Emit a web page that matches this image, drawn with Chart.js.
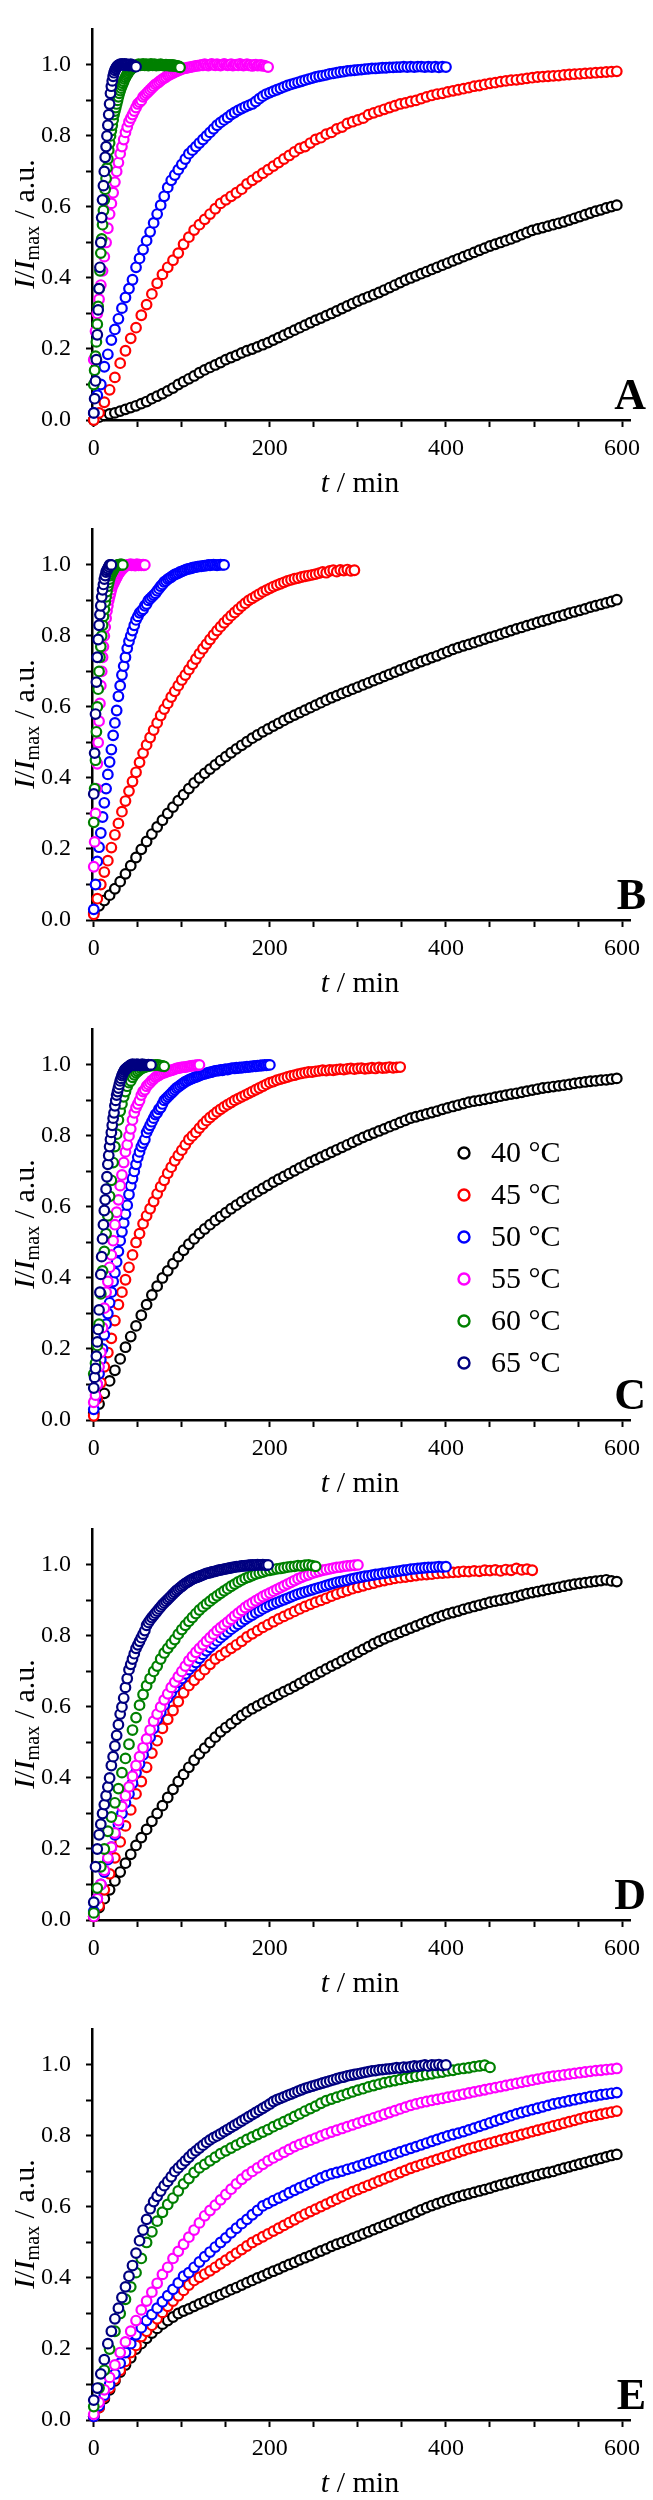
<!DOCTYPE html>
<html>
<head>
<meta charset="utf-8">
<script src="https://cdn.jsdelivr.net/npm/chart.js@4/dist/chart.umd.min.js"></script>
<style>
  body { margin: 0; background: #fff; }
  canvas { display: block; }
</style>
</head>
<body>
<canvas id="panelA" width="653" height="500"></canvas>
<canvas id="panelB" width="653" height="500"></canvas>
<canvas id="panelC" width="653" height="500"></canvas>
<canvas id="panelD" width="653" height="500"></canvas>
<canvas id="panelE" width="653" height="500"></canvas>
<script>
// sampling times (min)
const t1 = [0,1,2,3,4,5,6,7,8,9,10,11,12,13,14,15,16,17,18,19,20,21,22,23,24,25,26,27,28,29,30,31,32,33,34,35,36,37,38,39,40,41,42,43,44,45,46,47,48,49,50,51,52,53,54,55,56,57,58,59,60,61,62,63,64,65,66,67,68,69,70,71,72,73,74,75,76,77,78,79,80,81,82,83,84,85,86,87,88,89,90,91,92,93,94,95,96,97,98,99,100];
const t2 = [0,2,4,6,8,10,12,14,16,18,20,22,24,26,28,30,32,34,36,38,40,42,44,46,48,50,52,54,56,58,60,62,64,66,68,70,72,74,76,78,80,82,84,86,88,90,92,94,96,98,100,102,104,106,108,110,112,114,116,118,120,122,124,126,128,130,132,134,136,138,140,142,144,146,148,150,152,154,156,158,160,162,164,166,168,170,172,174,176,178,180,182,184,186,188,190,192,194,196,198,200];
const t4 = [0,4,8,12,16,20,24,28,32,36,40,44,48,52,56,60,64,68,72,76,80,84,88,92,96,100,104,108,112,116,120,124,128,132,136,140,144,148,152,156,160,164,168,172,176,180,184,188,192,196,200,204,208,212,216,220,224,228,232,236,240,244,248,252,256,260,264,268,272,276,280,284,288,292,296,300,304,308,312,316,320,324,328,332,336,340,344,348,352,356,360,364,368,372,376,380,384,388,392,396,400];
const t6 = [0,6,12,18,24,30,36,42,48,54,60,66,72,78,84,90,96,102,108,114,120,126,132,138,144,150,156,162,168,174,180,186,192,198,204,210,216,222,228,234,240,246,252,258,264,270,276,282,288,294,300,306,312,318,324,330,336,342,348,354,360,366,372,378,384,390,396,402,408,414,420,426,432,438,444,450,456,462,468,474,480,486,492,498,504,510,516,522,528,534,540,546,552,558,564,570,576,582,588,594];

const tempLabels = ["40 °C", "45 °C", "50 °C", "55 °C", "60 °C", "65 °C"];
const panelLetters = ["A", "B", "C", "D", "E"];

// ---- panel A : I/Imax ----
const a40 = [.000,.008,.013,.017,.020,.025,.030,.035,.040,.046,
  .052,.060,.067,.074,.082,.090,.100,.108,.116,.124,
  .133,.141,.148,.155,.162,.170,.176,.182,.189,.195,
  .200,.206,.212,.218,.225,.232,.239,.246,.253,.260,
  .267,.274,.281,.287,.294,.300,.307,.314,.321,.328,
  .335,.341,.347,.353,.359,.366,.373,.380,.387,.394,
  .400,.406,.412,.418,.424,.430,.436,.442,.448,.454,
  .460,.466,.472,.478,.484,.490,.495,.500,.505,.510,
  .516,.522,.528,.534,.538,.542,.546,.550,.554,.558,
  .563,.568,.573,.578,.583,.588,.592,.597,.601,.605];
const a45 = [0,.02,.05,.085,.12,.16,.195,.23,.26,.295,
  .325,.355,.385,.41,.43,.45,.47,.495,.515,.535,
  .55,.565,.58,.595,.61,.62,.63,.64,.65,.665,
  .675,.685,.695,.705,.715,.725,.735,.745,.755,.765,
  .77,.78,.79,.795,.805,.81,.82,.825,.835,.84,
  .845,.85,.86,.865,.87,.875,.88,.885,.89,.893,
  .897,.90,.905,.91,.914,.918,.92,.924,.927,.93,
  .933,.936,.94,.942,.945,.948,.95,.953,.955,.957,
  .958,.96,.962,.964,.966,.967,.968,.969,.97,.972,
  .973,.974,.975,.976,.977,.978,.979,.98,.981,.982];
const a50 = [.02,.07,.10,.15,.185,.225,.255,.285,.315,.345,
  .37,.395,.43,.455,.48,.505,.53,.555,.58,.605,
  .63,.655,.675,.69,.705,.72,.735,.75,.76,.77,
  .78,.79,.80,.81,.82,.83,.838,.845,.852,.86,
  .866,.872,.877,.882,.886,.89,.897,.905,.912,.918,
  .922,.926,.93,.934,.938,.942,.945,.948,.951,.954,
  .957,.96,.963,.966,.968,.97,.972,.975,.976,.978,
  .98,.981,.983,.984,.985,.986,.987,.988,.989,.99,
  .99,.991,.992,.992,.993,.993,.994,.994,.995,.994,
  .995,.994,.995,.995,.994,.995,.994,.995,.993,.995,
  .994];
const a55 = [.17,.25,.30,.34,.38,.42,.46,.50,.54,.58,
  .61,.64,.67,.70,.725,.75,.77,.79,.81,.825,
  .84,.85,.86,.87,.88,.89,.895,.90,.91,.915,
  .92,.925,.93,.935,.94,.945,.948,.952,.956,.96,
  .963,.966,.97,.972,.975,.977,.98,.982,.984,.986,
  .988,.99,.991,.992,.993,.994,.995,.996,.997,.998,
  .998,1.0,.999,1.002,1.0,.998,1.001,1.003,1.0,.999,
  1.002,1.0,.998,1.0,1.003,1.001,.999,1.0,1.002,.998,
  1.0,1.001,.999,1.003,1.0,.998,1.0,1.002,.999,1.0,
  .997,1.0,1.001,.998,.999,1.0,.997,.998,.996,.994];
const a60 = [.10,.14,.18,.22,.27,.32,.37,.42,.47,.51,
  .55,.59,.62,.65,.68,.71,.735,.76,.78,.80,
  .815,.83,.845,.86,.87,.88,.89,.90,.91,.92,
  .928,.935,.942,.948,.954,.96,.965,.97,.974,.978,
  .982,.985,.988,.99,.992,.994,.996,.997,.998,.999,
  1.0,1.002,1.0,.999,1.001,1.0,1.003,1.0,.999,1.001,
  1.002,1.0,.998,1.0,1.001,1.003,1.0,.999,1.0,1.002,
  1.0,.998,1.0,1.001,.999,1.0,1.002,1.0,.999,1.0,
  .998,1.0,1.001,.999,1.0,.998,1.0,.999,.997,1.0,
  .998,.999,.997,.998,.996,.997,.995,.996,.993];
const a65 = [.02,.06,.11,.17,.24,.31,.37,.43,.50,.57,
  .62,.66,.70,.74,.77,.80,.83,.86,.89,.92,
  .94,.955,.968,.978,.985,.99,.994,.997,.999,1.0,
  1.002,1.0,1.003,1.001,1.0,1.003,.999,1.002,1.0,1.001,
  .998,1.0,1.002,.999,1.0,.998,.997,.996,.995];

// ---- panel B ----
const b40 = [.02,.04,.055,.07,.088,.108,.13,.153,.176,.199,
  .221,.242,.262,.281,.30,.318,.336,.353,.37,.386,
  .40,.413,.425,.437,.449,.46,.471,.482,.492,.502,
  .512,.521,.53,.538,.546,.554,.562,.57,.577,.584,
  .591,.598,.605,.612,.619,.626,.632,.638,.644,.65,
  .656,.662,.668,.674,.68,.686,.692,.698,.704,.71,
  .716,.722,.728,.733,.739,.744,.75,.756,.762,.767,
  .772,.776,.781,.786,.791,.796,.80,.805,.81,.815,
  .82,.824,.829,.833,.838,.842,.846,.851,.855,.859,
  .864,.868,.872,.876,.881,.885,.889,.893,.897,.902];
const b45 = [.016,.06,.10,.135,.167,.204,.24,.272,.305,.335,
  .363,.39,.416,.444,.47,.493,.514,.535,.555,.576,
  .594,.61,.628,.644,.66,.676,.69,.705,.72,.735,
  .75,.764,.777,.79,.803,.815,.826,.837,.847,.857,
  .866,.875,.884,.892,.90,.906,.912,.918,.924,.929,
  .934,.939,.943,.947,.951,.955,.958,.961,.963,.966,
  .968,.97,.972,.974,.977,.98,.978,.983,.985,.981,
  .986,.984,.987,.983,.985];
const b50 = [.03,.10,.165,.205,.245,.29,.33,.37,.41,.445,
  .48,.52,.555,.59,.63,.66,.69,.715,.74,.765,
  .785,.80,.815,.83,.845,.855,.865,.87,.875,.885,
  .89,.90,.905,.91,.915,.92,.927,.933,.94,.945,
  .952,.955,.96,.963,.966,.97,.973,.975,.977,.98,
  .982,.984,.986,.988,.989,.99,.992,.993,.994,.995,
  .996,.996,.997,.998,.998,1.0,.999,1.0,1.001,1.0,
  .999,1.0,1.001,1.0,1.0];
const b55 = [.15,.22,.30,.37,.44,.50,.56,.61,.66,.70,
  .74,.77,.80,.825,.85,.87,.885,.90,.91,.92,
  .93,.94,.945,.95,.955,.96,.965,.97,.975,.978,
  .982,.985,.988,.99,.993,.995,.997,.998,1.0,.999,
  1.001,1.0,1.002,.999,1.0,1.001,1.0,.998,1.0,1.002,
  1.0,.999,1.001,1.0,.999,1.0,1.001,.999,1.0];
const b60 = [.275,.37,.45,.53,.60,.65,.70,.74,.77,.80,
  .83,.855,.875,.895,.91,.925,.94,.95,.96,.97,
  .975,.98,.985,.99,.993,.996,.998,1.0,1.0,1.001,
  1.0,1.002,1.0,1.0];
const b65 = [.355,.47,.58,.67,.74,.79,.83,.86,.885,.91,
  .93,.945,.96,.97,.98,.985,.99,.995,1.0,1.0,1.0];

// ---- panel C ----
const c40 = [.02,.045,.075,.11,.14,.172,.205,.235,.265,.295,
  .325,.352,.377,.40,.42,.44,.46,.478,.495,.51,
  .525,.538,.55,.562,.573,.584,.595,.605,.615,.625,
  .634,.643,.652,.661,.67,.678,.686,.694,.702,.71,
  .718,.726,.733,.74,.747,.754,.761,.768,.775,.782,
  .789,.796,.802,.808,.814,.82,.826,.832,.838,.844,
  .85,.854,.858,.862,.866,.87,.875,.879,.883,.887,
  .891,.895,.898,.90,.903,.906,.909,.912,.915,.918,
  .92,.923,.926,.929,.932,.935,.937,.939,.941,.943,
  .945,.948,.95,.952,.954,.955,.957,.958,.96,.962];
const c45 = [.012,.06,.105,.15,.19,.23,.28,.325,.36,.395,
  .43,.465,.50,.525,.553,.575,.595,.615,.637,.657,
  .675,.695,.712,.73,.745,.76,.775,.79,.80,.81,
  .822,.833,.843,.852,.86,.868,.875,.882,.888,.894,
  .90,.905,.91,.915,.92,.925,.93,.935,.94,.945,
  .95,.953,.957,.96,.963,.966,.969,.971,.974,.976,
  .978,.98,.98,.982,.983,.985,.984,.986,.985,.987,
  .988,.987,.989,.99,.988,.99,.991,.989,.99,.992,
  .99,.993,.991,.992,.994,.992,.993,.994];
const c50 = [.03,.06,.10,.13,.17,.20,.24,.27,.30,.33,
  .36,.39,.415,.445,.475,.505,.53,.555,.58,.605,
  .635,.66,.68,.70,.72,.74,.755,.77,.78,.79,
  .81,.82,.83,.84,.85,.86,.865,.875,.88,.89,
  .90,.905,.91,.915,.92,.925,.93,.935,.938,.942,
  .946,.949,.953,.955,.958,.96,.962,.964,.966,.968,
  .97,.972,.974,.975,.976,.978,.979,.98,.982,.983,
  .984,.984,.986,.985,.987,.988,.987,.989,.99,.991,
  .99,.992,.991,.993,.992,.994,.993,.995,.994,.996,
  .995,.997,.996,.998,.997,.999,.998,1.0,.999,1.0,
  1.0];
const c55 = [.05,.07,.10,.15,.19,.26,.315,.36,.39,.43,
  .465,.505,.55,.585,.62,.66,.69,.725,.755,.775,
  .80,.82,.845,.865,.88,.89,.90,.915,.925,.93,
  .94,.945,.95,.956,.96,.965,.968,.971,.974,.976,
  .978,.98,.982,.983,.985,.986,.988,.99,.991,.992,
  .993,.994,.994,.995,.996,.997,.998,.998,.999,.999,
  1.0];
const c60 = [.13,.16,.21,.27,.355,.42,.475,.525,.575,.63,
  .675,.725,.77,.805,.845,.87,.89,.91,.925,.94,
  .95,.955,.965,.972,.978,.982,.986,.99,.992,.994,
  .995,.997,.998,.998,.999,1.0,1.0,.999,.998,.997,
  .996];
const c65 = [.09,.12,.145,.18,.22,.255,.31,.36,.41,.46,
  .51,.55,.59,.62,.65,.685,.72,.745,.77,.79,
  .81,.83,.85,.865,.885,.90,.915,.925,.935,.945,
  .955,.962,.97,.975,.98,.985,.988,.99,.992,.994,
  .996,.998,1.0,.999,1.002,1.0,1.001,1.0,.999,1.002,
  1.0,1.001,1.0,.998,1.0,1.002,1.0,.999,1.001,1.0,
  .999,1.0,1.001,.999,1.0,1.0];

// ---- panel D ----
const d40 = [.01,.035,.06,.085,.11,.135,.16,.185,.21,.232,
  .255,.278,.30,.322,.345,.368,.39,.41,.43,.45,
  .468,.484,.50,.515,.53,.542,.553,.565,.576,.586,
  .595,.603,.611,.619,.627,.635,.643,.65,.658,.666,
  .675,.683,.691,.699,.707,.715,.722,.73,.738,.746,
  .754,.762,.77,.778,.785,.792,.798,.804,.81,.816,
  .822,.828,.834,.84,.846,.852,.857,.862,.866,.87,
  .875,.879,.883,.887,.891,.895,.898,.901,.904,.907,
  .911,.915,.919,.922,.925,.928,.931,.934,.937,.94,
  .943,.946,.948,.95,.952,.954,.956,.958,.955,.953];
const d45 = [.01,.04,.085,.13,.175,.22,.265,.31,.355,.39,
  .43,.47,.505,.54,.565,.59,.615,.64,.66,.675,
  .69,.705,.72,.735,.745,.755,.765,.775,.785,.797,
  .806,.815,.824,.832,.84,.848,.855,.862,.869,.876,
  .883,.889,.895,.90,.906,.912,.918,.923,.928,.933,
  .937,.941,.945,.949,.953,.956,.959,.962,.964,.966,
  .968,.97,.972,.973,.974,.976,.977,.978,.979,.98,
  .982,.981,.983,.982,.985,.984,.986,.983,.987,.985,
  .99,.986,.988,.985];
const d50 = [.025,.06,.10,.135,.17,.205,.24,.27,.30,.33,
  .355,.385,.415,.44,.465,.49,.515,.54,.565,.585,
  .605,.625,.64,.655,.67,.68,.693,.705,.715,.725,
  .737,.748,.758,.768,.777,.786,.795,.803,.811,.819,
  .826,.833,.84,.847,.853,.859,.865,.87,.876,.881,
  .886,.89,.894,.898,.902,.906,.91,.914,.918,.921,
  .924,.927,.93,.933,.936,.939,.942,.945,.948,.951,
  .953,.955,.957,.96,.962,.964,.966,.968,.969,.971,
  .973,.974,.976,.977,.979,.98,.982,.983,.985,.986,
  .988,.989,.99,.991,.992,.993,.993,.994,.995,.994,
  .995];
const d55 = [.01,.06,.10,.14,.175,.205,.245,.28,.32,.35,
  .375,.405,.435,.46,.485,.51,.535,.56,.58,.60,
  .62,.637,.655,.67,.685,.70,.715,.73,.742,.754,
  .765,.775,.785,.795,.805,.815,.823,.831,.839,.847,
  .856,.864,.872,.88,.887,.893,.899,.905,.911,.916,
  .921,.926,.931,.936,.941,.946,.951,.956,.961,.965,
  .969,.972,.976,.979,.982,.985,.987,.989,.991,.993,
  .994,.996,.997,.998,.999,1.0];
const d60 = [.02,.09,.15,.20,.25,.29,.33,.37,.415,.455,
  .495,.535,.57,.605,.635,.66,.68,.70,.715,.735,
  .752,.765,.778,.79,.805,.818,.83,.841,.852,.863,
  .873,.882,.89,.898,.906,.913,.92,.927,.933,.94,
  .946,.952,.957,.962,.966,.97,.974,.977,.98,.983,
  .985,.987,.989,.99,.992,.994,.995,.996,.998,.997,
  .999,1.0,.998,.996];
const d65 = [.05,.15,.20,.24,.27,.30,.325,.35,.375,.40,
  .435,.46,.49,.52,.55,.58,.60,.625,.655,.68,
  .705,.72,.735,.75,.765,.775,.785,.795,.805,.815,
  .83,.838,.845,.852,.858,.864,.87,.876,.882,.888,
  .893,.898,.903,.908,.913,.918,.923,.928,.932,.936,
  .94,.944,.948,.951,.954,.957,.96,.962,.964,.966,
  .968,.97,.972,.974,.976,.977,.978,.98,.981,.982,
  .984,.985,.986,.987,.988,.989,.99,.991,.992,.993,
  .994,.995,.995,.996,.997,.997,.998,.998,.999,.999,
  1.0,.999,1.0,1.001,1.0,1.0,1.001,1.0,.999,1.0];

// ---- panel E ----
const e40 = [.01,.035,.06,.085,.11,.135,.155,.175,.20,.215,
  .23,.245,.258,.27,.28,.29,.30,.307,.313,.32,
  .327,.333,.34,.347,.353,.36,.367,.373,.38,.387,
  .393,.40,.406,.413,.419,.425,.432,.438,.444,.451,
  .457,.463,.47,.476,.482,.489,.495,.50,.506,.512,
  .518,.524,.53,.536,.542,.548,.554,.56,.566,.572,
  .578,.585,.592,.598,.604,.609,.614,.619,.624,.629,
  .633,.637,.641,.645,.649,.653,.658,.662,.666,.67,
  .674,.678,.682,.686,.69,.694,.697,.70,.705,.709,
  .713,.717,.721,.725,.729,.733,.737,.741,.745,.748];
const e45 = [.01,.035,.065,.09,.115,.14,.165,.19,.21,.235,
  .25,.267,.285,.303,.32,.335,.35,.365,.38,.393,
  .402,.411,.42,.43,.44,.45,.46,.47,.48,.49,
  .50,.508,.516,.524,.532,.54,.548,.556,.564,.572,
  .58,.587,.594,.601,.608,.615,.622,.629,.636,.643,
  .649,.655,.661,.667,.673,.679,.685,.691,.697,.703,
  .709,.714,.719,.724,.729,.734,.739,.744,.749,.754,
  .759,.764,.768,.772,.776,.78,.784,.788,.792,.796,
  .80,.804,.808,.812,.816,.82,.824,.828,.832,.836,
  .84,.844,.848,.852,.855,.858,.861,.864,.867,.87];
const e50 = [.01,.04,.07,.10,.13,.16,.19,.215,.24,.26,
  .28,.297,.315,.333,.35,.368,.386,.405,.415,.43,
  .445,.46,.473,.487,.50,.513,.527,.54,.553,.565,
  .578,.59,.603,.61,.618,.625,.632,.64,.647,.654,
  .661,.668,.675,.682,.688,.693,.697,.701,.706,.71,
  .715,.72,.725,.73,.735,.74,.745,.75,.755,.76,
  .765,.77,.775,.78,.785,.79,.795,.80,.804,.808,
  .812,.817,.822,.827,.832,.837,.842,.847,.852,.857,
  .862,.866,.87,.874,.878,.882,.886,.89,.893,.896,
  .899,.902,.905,.908,.911,.913,.916,.918,.92,.922];
const e55 = [.016,.05,.085,.12,.155,.19,.22,.25,.28,.31,
  .335,.36,.385,.41,.43,.455,.475,.495,.515,.535,
  .555,.575,.59,.605,.62,.635,.65,.665,.678,.69,
  .70,.71,.72,.73,.738,.746,.754,.762,.77,.776,
  .782,.788,.794,.80,.806,.811,.816,.821,.826,.831,
  .836,.841,.846,.851,.856,.861,.866,.871,.876,.881,
  .886,.89,.894,.897,.90,.903,.906,.909,.912,.915,
  .918,.921,.924,.927,.93,.933,.936,.939,.942,.945,
  .948,.951,.954,.957,.96,.963,.966,.968,.97,.972,
  .974,.976,.978,.98,.982,.984,.985,.987,.988,.99];
const e60 = [.038,.09,.14,.20,.25,.30,.34,.375,.415,.455,
  .50,.53,.56,.585,.607,.625,.645,.665,.68,.697,
  .71,.72,.73,.74,.75,.758,.766,.774,.782,.79,.797,
  .804,.811,.818,.826,.833,.84,.847,.855,.862,.87,
  .877,.884,.892,.899,.904,.909,.914,.919,.924,.929,
  .933,.938,.942,.946,.95,.953,.956,.959,.962,.965,
  .968,.97,.973,.975,.978,.98,.983,.985,.988,.99,
  .992,.995,.997,.999,.993];
const e65 = [.056,.09,.13,.17,.215,.25,.285,.315,.345,.375,
  .405,.435,.47,.505,.535,.565,
  .595,.615,.63,.645,.66,.672,.685,.70,.71,.72,
  .73,.74,.75,.758,.766,.774,.782,.789,.795,.80,
  .806,.812,.818,.824,.83,.836,.842,.848,.854,.86,
  .866,.872,.878,.884,.89,.897,.902,.906,.91,.914,
  .918,.922,.926,.93,.934,.937,.94,.943,.946,.949,
  .952,.955,.958,.961,.964,.966,.969,.971,.973,.975,
  .977,.979,.981,.983,.984,.986,.987,.988,.989,.99,
  .992,.991,.994,.993,.995,.997,.996,.998,1.0,.997,
  1.0,.999,1.001,.998,1.0];

// which time grid each series was sampled on, per panel (40 -> 65 °C)
const panelSeries = [
  [[t6, a40], [t6, a45], [t4, a50], [t2, a55], [t1, a60], [t1, a65]],
  [[t6, b40], [t4, b45], [t2, b50], [t1, b55], [t1, b60], [t1, b65]],
  [[t6, c40], [t4, c45], [t2, c50], [t2, c55], [t2, c60], [t1, c65]],
  [[t6, d40], [t6, d45], [t4, d50], [t4, d55], [t4, d60], [t2, d65]],
  [[t6, e40], [t6, e45], [t6, e50], [t6, e55], [t6, e60], [t4, e65]]
];

const FONT = "'Liberation Serif', 'Times New Roman', serif";
const seriesColors = ["#000000", "#ff0000", "#0000ff", "#ff00ff", "#008000", "#000080"];

// draws a row of differently styled text pieces, centred on cx
function drawRuns(ctx, runs, cx, baseY) {
  let total = 0;
  runs.forEach(r => { ctx.font = r.font; r.w = ctx.measureText(r.text).width; total += r.w; });
  let x = cx - total / 2;
  ctx.textAlign = "left";
  ctx.textBaseline = "alphabetic";
  runs.forEach(r => {
    ctx.font = r.font;
    ctx.fillText(r.text, x, baseY + (r.dy || 0));
    x += r.w;
  });
}

const figureText = {
  id: "figureText",
  afterDraw(chart, args, opts) {
    const ctx = chart.ctx;
    ctx.save();
    ctx.fillStyle = "#000";

    // x title
    drawRuns(ctx, [
      { text: "t", font: "italic 30px " + FONT },
      { text: " / min", font: "30px " + FONT }
    ], 360, 492);

    // y title (rotated)
    ctx.save();
    ctx.translate(34, 224);
    ctx.rotate(-Math.PI / 2);
    drawRuns(ctx, [
      { text: "I", font: "italic 30px " + FONT },
      { text: "/", font: "30px " + FONT },
      { text: "I", font: "italic 30px " + FONT },
      { text: "max", font: "20px " + FONT, dy: 5 },
      { text: " / a.u.", font: "30px " + FONT }
    ], 0, 0);
    ctx.restore();

    // panel letter
    ctx.font = "bold 44px " + FONT;
    ctx.textAlign = "right";
    ctx.textBaseline = "alphabetic";
    ctx.fillText(opts.letter, 646, 409);

    // legend (panel C only)
    if (opts.legend) {
      chart.data.datasets.forEach((ds, i) => {
        const y = 153 + i * 42;
        ctx.beginPath();
        ctx.arc(464, y, 5.5, 0, Math.PI * 2);
        ctx.lineWidth = 2.4;
        ctx.strokeStyle = ds.borderColor;
        ctx.stroke();
        ctx.font = "30px " + FONT;
        ctx.textAlign = "left";
        ctx.textBaseline = "middle";
        ctx.fillStyle = "#000";
        ctx.fillText(ds.label, 491, y + 1);
      });
    }
    ctx.restore();
  }
};

function buildDatasets(series) {
  return series.map(([times, values], i) => ({
    label: tempLabels[i],
    data: values.map((v, k) => ({ x: times[k], y: v })),
    showLine: false,
    pointRadius: 4.8,
    pointBorderWidth: 2.2,
    pointBorderColor: seriesColors[i],
    pointBackgroundColor: "#fff",
    borderColor: seriesColors[i],
    backgroundColor: "#fff",
    order: series.length - 1 - i,
    clip: false
  }));
}

panelSeries.forEach((series, p) => {
  const canvas = document.getElementById("panel" + panelLetters[p]);
  new Chart(canvas.getContext("2d"), {
    type: "scatter",
    data: { datasets: buildDatasets(series) },
    plugins: [figureText],
    options: {
      responsive: false,
      animation: false,
      devicePixelRatio: 1,
      events: [],
      layout: { padding: { left: 0, right: 23, top: 8, bottom: 0 } },
      plugins: {
        legend: { display: false },
        tooltip: { enabled: false },
        figureText: { letter: panelLetters[p], legend: p === 2 }
      },
      scales: {
        x: {
          type: "linear",
          min: -2,
          max: 609,
          border: { display: true, color: "#000", width: 2.5 },
          grid: { drawOnChartArea: false, drawTicks: true, tickLength: 7, tickWidth: 2, tickColor: "#000" },
          ticks: {
            stepSize: 50,
            includeBounds: false,
            autoSkip: false,
            maxRotation: 0,
            padding: 7,
            color: "#000",
            font: { family: FONT, size: 24 },
            callback: v => (v % 200 === 0 ? String(v) : "")
          },
          afterFit: s => { s.height = 80; }
        },
        y: {
          type: "linear",
          min: 0,
          max: 1.1,
          border: { display: true, color: "#000", width: 2.5 },
          grid: {
            drawOnChartArea: false,
            drawTicks: true,
            tickLength: 6,
            tickWidth: 2,
            tickColor: c => (c.tick && c.tick.value > 1.05 ? "rgba(0,0,0,0)" : "#000")
          },
          ticks: {
            stepSize: 0.1,
            autoSkip: false,
            padding: 15,
            color: "#000",
            font: { family: FONT, size: 24 },
            callback: v => (Math.round(v * 10) % 2 === 0 && v < 1.05 ? v.toFixed(1) : "")
          },
          afterFit: s => { s.width = 92; }
        }
      }
    }
  });
});
</script>
</body>
</html>
